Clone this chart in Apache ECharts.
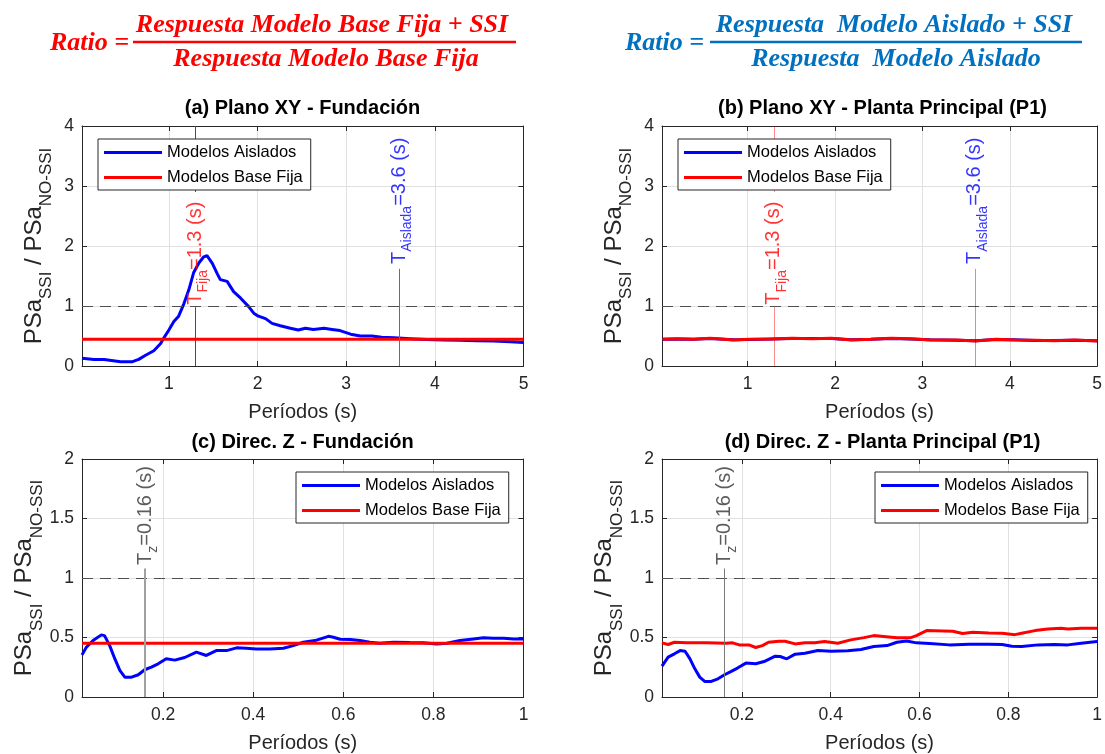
<!DOCTYPE html>
<html><head><meta charset="utf-8">
<script src="https://cdn.jsdelivr.net/npm/echarts@6/dist/echarts.min.js"></script>
<style>html,body{margin:0;padding:0;background:#fff}#c{width:1105px;height:754px}</style>
</head><body><div id="c"></div><script>
// ---------- data ----------
const xTicksXY = [1, 2, 3, 4, 5];
const xTicksZ = [0.2, 0.4, 0.6, 0.8, 1];
const seriesNames = ['Modelos Aislados', 'Modelos Base Fija'];
const panelTitles = ['(a) Plano XY - Fundación', '(b) Plano XY - Planta Principal (P1)', '(c) Direc. Z - Fundación', '(d) Direc. Z - Planta Principal (P1)'];

// (a) Plano XY - Fundacion
const aT = [0.02,0.155,0.27,0.455,0.59,0.66,0.737,0.83,0.905,0.94,1.0,1.056,1.11,1.17,1.225,1.28,1.34,1.394,1.43,1.49,1.545,1.58,1.657,1.73,1.81,1.9,1.957,2.01,2.09,2.164,2.257,2.37,2.46,2.54,2.63,2.75,2.84,2.93,3.05,3.16,3.29,3.4,3.54,3.72,3.91,4.1,4.29,4.47,4.66,4.85,5.0];
const aAislados = [0.128,0.11,0.11,0.072,0.072,0.11,0.18,0.255,0.37,0.46,0.6,0.74,0.83,1.04,1.27,1.56,1.72,1.82,1.84,1.71,1.54,1.44,1.41,1.24,1.13,0.99,0.88,0.83,0.79,0.71,0.67,0.63,0.6,0.63,0.61,0.63,0.61,0.59,0.53,0.5,0.5,0.48,0.47,0.456,0.44,0.433,0.43,0.42,0.417,0.405,0.39];
const aBaseT = [0.02, 5.0];
const aBase = [0.445, 0.445];

// (b) Plano XY - Planta Principal
const bT = [0.027,0.196,0.384,0.57,0.835,1.02,1.285,1.51,1.735,1.96,2.19,2.41,2.64,2.86,3.09,3.39,3.61,3.84,4.06,4.29,4.51,4.74,5.0];
const bAislados = [0.447,0.452,0.446,0.458,0.436,0.442,0.452,0.458,0.458,0.458,0.436,0.446,0.458,0.452,0.436,0.431,0.42,0.441,0.436,0.426,0.425,0.431,0.42];
const bBase = [0.444,0.456,0.444,0.461,0.433,0.444,0.45,0.461,0.456,0.461,0.433,0.444,0.461,0.456,0.433,0.433,0.417,0.444,0.433,0.428,0.422,0.433,0.417];

// (c) Direc. Z - Fundacion
const cT = [0.02,0.0297,0.0445,0.063,0.07,0.0815,0.093,0.104,0.115,0.13,0.145,0.159,0.174,0.189,0.207,0.226,0.248,0.274,0.296,0.318,0.341,0.363,0.385,0.407,0.437,0.467,0.489,0.511,0.537,0.567,0.578,0.593,0.615,0.637,0.659,0.681,0.711,0.748,0.778,0.807,0.83,0.859,0.889,0.911,0.933,0.956,0.978,1.0];
const cAislados = [0.354,0.418,0.474,0.522,0.516,0.432,0.32,0.223,0.167,0.167,0.187,0.229,0.251,0.279,0.321,0.31,0.332,0.377,0.349,0.39,0.39,0.413,0.41,0.404,0.404,0.41,0.432,0.46,0.474,0.51,0.502,0.485,0.483,0.474,0.46,0.452,0.46,0.457,0.455,0.446,0.452,0.474,0.488,0.497,0.494,0.494,0.488,0.488];
const cBaseT = [0.02, 1.0];
const cBase = [0.452, 0.452];

// (d) Direc. Z - Planta Principal
const dT = [0.02,0.0338,0.048,0.0608,0.072,0.083,0.094,0.105,0.116,0.131,0.146,0.161,0.176,0.19,0.209,0.231,0.25,0.275,0.286,0.301,0.32,0.342,0.371,0.401,0.438,0.468,0.497,0.527,0.549,0.571,0.593,0.623,0.667,0.712,0.756,0.786,0.808,0.83,0.867,0.904,0.934,0.964,1.0];
const dAislados = [0.259,0.335,0.363,0.39,0.385,0.32,0.237,0.167,0.131,0.131,0.153,0.187,0.215,0.243,0.285,0.279,0.298,0.343,0.34,0.321,0.36,0.368,0.39,0.385,0.388,0.399,0.424,0.432,0.46,0.471,0.455,0.449,0.438,0.444,0.444,0.441,0.427,0.424,0.438,0.441,0.438,0.452,0.466];
const dBaseT = [0.02,0.034,0.048,0.0756,0.12,0.164,0.179,0.194,0.216,0.231,0.246,0.26,0.283,0.297,0.32,0.342,0.364,0.386,0.416,0.445,0.475,0.497,0.519,0.549,0.579,0.593,0.616,0.653,0.675,0.697,0.72,0.756,0.786,0.815,0.83,0.86,0.889,0.919,0.934,0.964,1.0];
const dBase = [0.455,0.441,0.46,0.455,0.455,0.452,0.455,0.438,0.438,0.416,0.432,0.46,0.469,0.469,0.446,0.455,0.455,0.466,0.452,0.48,0.499,0.516,0.508,0.497,0.497,0.516,0.558,0.555,0.552,0.533,0.544,0.538,0.536,0.524,0.536,0.558,0.572,0.577,0.572,0.577,0.577];

// reference periods (vertical lines) and where their labels start
const tFija = 1.3, tAislada = 3.6, tZ = 0.16;
const refRatio = 1;
const fijaLabelY = 1.02, fijaLineTop = 0.98, fijaUpperFrom = 2.9;
const aisLabelY = 1.7, aisLineTop = 1.62;
const zLabelY = 1.11, zLineTop = 1.08;

// ---------- chart ----------
const FONT = '"Liberation Sans", Arial, Helvetica, sans-serif';
const AX = '#262626';
const BLUE = '#0000ff', RED = '#ff0000';
const pairs = (xs, ys) => xs.map((x, i) => [x, ys[i]]);

const grids = [
  {left: 82, top: 126, width: 441.5, height: 240},
  {left: 662, top: 126, width: 441.5, height: 240},
  {left: 82, top: 459, width: 441.5, height: 239},
  {left: 662, top: 459, width: 441.5, height: 239}
];

const xAxis = [], yAxis = [];
const yName = '{m|PSa}{s|SSI}{m| / PSa}{s|NO-SSI}';
grids.forEach((g, gi) => {
  const isZ = gi >= 2;
  const ticks = isZ ? xTicksZ : xTicksXY;
  const max = isZ ? 1 : 5;
  const line = {show: true, onZero: false, lineStyle: {color: AX, width: 1}};
  const tick = {show: true, inside: true, length: 5, customValues: ticks, lineStyle: {color: AX}};
  xAxis.push({
    type: 'value', gridIndex: gi, min: 0.02, max: max, position: 'bottom',
    axisLine: line, axisTick: tick,
    axisLabel: {customValues: ticks, color: AX, fontSize: 17.5, margin: 9, fontFamily: FONT},
    splitLine: {show: true, lineStyle: {color: '#e0e0e0', width: 1}},
    name: 'Períodos (s)', nameLocation: 'middle', nameGap: 36,
    nameTextStyle: {color: AX, fontSize: 20, fontFamily: FONT}
  });
  xAxis.push({
    type: 'value', gridIndex: gi, min: 0.02, max: max, position: 'top',
    axisLine: line, axisTick: tick, axisLabel: {show: false}, splitLine: {show: false}
  });
  const ymax = isZ ? 2 : 4, yint = isZ ? 0.5 : 1;
  const ytick = {show: true, inside: true, length: 5, lineStyle: {color: AX}};
  yAxis.push({
    type: 'value', gridIndex: gi, min: 0, max: ymax, interval: yint, position: 'left',
    axisLine: line, axisTick: ytick,
    axisLabel: {color: AX, fontSize: 17.5, margin: 8, fontFamily: FONT},
    splitLine: {show: true, lineStyle: {color: '#e0e0e0', width: 1}},
    name: yName, nameLocation: 'middle', nameRotate: 90, nameGap: 27,
    nameTextStyle: {color: AX, fontFamily: FONT, rich: {
      m: {fontSize: 24, lineHeight: 42, color: AX, fontFamily: FONT},
      s: {fontSize: 17, lineHeight: 17, verticalAlign: 'bottom', color: AX, fontFamily: FONT}
    }}
  });
  yAxis.push({
    type: 'value', gridIndex: gi, min: 0, max: ymax, interval: yint, position: 'right',
    axisLine: line, axisTick: ytick, axisLabel: {show: false}, splitLine: {show: false}
  });
});

function curve(name, color, gi, xs, ys) {
  return {
    type: 'line', name: name, xAxisIndex: gi * 2, yAxisIndex: gi * 2,
    data: pairs(xs, ys), symbol: 'none', showSymbol: false, color: color,
    lineStyle: {color: color, width: 3}, itemStyle: {color: color}, z: 3
  };
}

const richAnn = {
  rm: {fontSize: 20, lineHeight: 30, color: RED, fontFamily: FONT},
  rs: {fontSize: 14, lineHeight: 14, verticalAlign: 'bottom', color: RED, fontFamily: FONT},
  bm: {fontSize: 20, lineHeight: 30, color: BLUE, fontFamily: FONT},
  bs: {fontSize: 14, lineHeight: 14, verticalAlign: 'bottom', color: BLUE, fontFamily: FONT},
  gm: {fontSize: 20, lineHeight: 30, color: '#333333', fontFamily: FONT},
  gs: {fontSize: 14, lineHeight: 14, verticalAlign: 'bottom', color: '#333333', fontFamily: FONT}
};
function annLabel(x, y, fmt) {
  return {value: [x, y], label: {show: true, position: 'inside', align: 'left', verticalAlign: 'middle', rotate: 90, formatter: fmt, rich: richAnn}};
}
function seg(x, y0, y1, color, width) {
  return [{coord: [x, y0], lineStyle: {color: color, width: width, type: 'solid'}}, {coord: [x, y1]}];
}
const dashRef = {yAxis: refRatio, lineStyle: {color: '#505050', width: 1, type: [11, 7]}};

function annotXY(gi, redCol, blueCol) {
  return {
    type: 'scatter', xAxisIndex: gi * 2, yAxisIndex: gi * 2, symbolSize: 1, silent: true, z: 4,
    itemStyle: {color: 'rgba(0,0,0,0)'},
    data: [
      annLabel(tFija, fijaLabelY, '{rm|T}{rs|Fija}{rm|=' + tFija + ' (s)}'),
      annLabel(tAislada, aisLabelY, '{bm|T}{bs|Aislada}{bm|=' + tAislada + ' (s)}')
    ],
    markLine: {silent: true, symbol: ['none', 'none'], label: {show: false}, animation: false,
      data: [
        dashRef,
        seg(tFija, 0, fijaLineTop, redCol, 1),
        seg(tFija, fijaUpperFrom, 4, redCol, 1),
        seg(tAislada, 0, aisLineTop, blueCol, 1)
      ]}
  };
}
function annotZ(gi, col, w) {
  return {
    type: 'scatter', xAxisIndex: gi * 2, yAxisIndex: gi * 2, symbolSize: 1, silent: true, z: 4,
    itemStyle: {color: 'rgba(0,0,0,0)'},
    data: [annLabel(tZ, zLabelY, '{gm|T}{gs|z}{gm|=' + tZ + ' (s)}')],
    markLine: {silent: true, symbol: ['none', 'none'], label: {show: false}, animation: false,
      data: [dashRef, seg(tZ, 0, zLineTop, col, w)]}
  };
}

const series = [
  annotXY(0, '#ff0000', '#5a5aff'),
  curve(seriesNames[0], BLUE, 0, aT, aAislados),
  curve(seriesNames[1], RED, 0, aBaseT, aBase),
  annotXY(1, 'rgba(255,0,0,0.45)', 'rgba(0,0,255,0.4)'),
  curve(seriesNames[0], BLUE, 1, bT, bAislados),
  curve(seriesNames[1], RED, 1, bT, bBase),
  annotZ(2, '#a0a0a0', 2),
  curve(seriesNames[0], BLUE, 2, cT, cAislados),
  curve(seriesNames[1], RED, 2, cBaseT, cBase),
  annotZ(3, '#7a7a7a', 1),
  curve(seriesNames[0], BLUE, 3, dT, dAislados),
  curve(seriesNames[1], RED, 3, dBaseT, dBase)
];

const legendPos = [[98, 139], [678, 139], [296, 472], [875, 472]];
const legend = legendPos.map(p => ({
  left: p[0], top: p[1], orient: 'vertical', data: seriesNames, selectedMode: false,
  icon: 'rect', itemWidth: 58, itemHeight: 3, itemGap: 8, padding: [5, 8, 4, 6],
  borderColor: AX, borderWidth: 1, backgroundColor: '#ffffff', borderRadius: 0,
  textStyle: {fontSize: 16.5, color: '#000000', fontFamily: FONT}, z: 6
}));

function txt(text, x, y, font, color, align) {
  return {type: 'text', x: x, y: y, z: 10, silent: true,
    style: {text: text, font: font, fill: color, align: align, verticalAlign: 'middle', textAlign: align, textVerticalAlign: 'middle'}};
}
const FF = 'italic bold 26px "Liberation Serif", "DejaVu Serif", serif';
const titleCenters = [[302.5, 108], [882.5, 108], [302.5, 442], [882.5, 442]];
const graphic = [
  txt('Ratio =', 129, 43, FF, '#ff0000', 'right'),
  txt('Respuesta Modelo Base Fija + SSI', 322, 25, FF, '#ff0000', 'center'),
  {type: 'line', z: 10, silent: true, shape: {x1: 133, y1: 42, x2: 516, y2: 42}, style: {stroke: '#ff0000', lineWidth: 2.5}},
  txt('Respuesta Modelo Base Fija', 326, 59, FF, '#ff0000', 'center'),
  txt('Ratio =', 704, 43, FF, '#0070c0', 'right'),
  txt('Respuesta  Modelo Aislado + SSI', 894, 25, FF, '#0070c0', 'center'),
  {type: 'line', z: 10, silent: true, shape: {x1: 710, y1: 42, x2: 1082, y2: 42}, style: {stroke: '#0070c0', lineWidth: 2.5}},
  txt('Respuesta  Modelo Aislado', 896, 59, FF, '#0070c0', 'center')
].concat(panelTitles.map((t, i) => txt(t, titleCenters[i][0], titleCenters[i][1], 'bold 20px ' + FONT, '#000000', 'center')));

const chart = echarts.init(document.getElementById('c'), null, {renderer: 'canvas'});
chart.setOption({
  animation: false,
  backgroundColor: '#ffffff',
  grid: grids,
  xAxis: xAxis,
  yAxis: yAxis,
  legend: legend,
  series: series,
  graphic: graphic
});
</script></body></html>
